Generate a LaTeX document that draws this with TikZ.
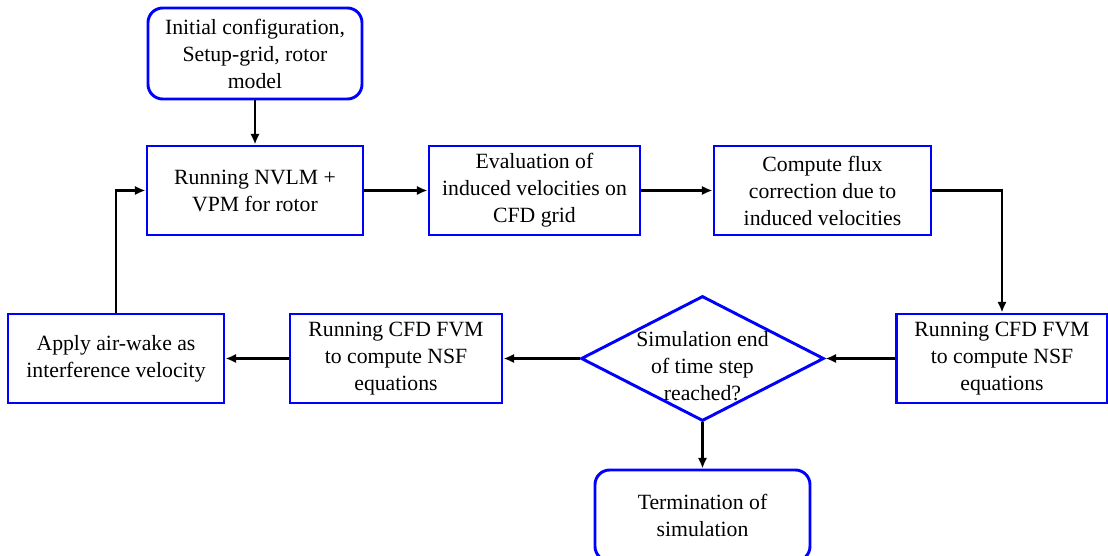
\documentclass[tikz,border=0pt]{standalone}
\usepackage{fontspec}
\setmainfont{Liberation Serif}
\usetikzlibrary{shapes.geometric,arrows.meta}
\begin{document}
\begin{tikzpicture}[x=0.75pt,y=-0.75pt,
  txt/.style={align=center,font=\fontsize{16.3}{20.25}\selectfont,inner sep=0pt},
  box/.style={txt,draw=blue,line width=2.2pt,minimum height=66.75pt},
  rbox/.style={box,rounded corners=11pt,minimum height=68.25pt},
  dia/.style={diamond,draw=blue,line width=2.2pt,inner sep=0pt,minimum width=182.25pt,minimum height=93.75pt},
  arr/.style={-{Latex[length=8pt,width=7pt]},line width=1.8pt,black}]
\useasboundingbox (0,0) rectangle (1108,556);
\node[rbox,minimum width=160.5pt] (init) at (255,53.5) {Initial configuration,\\Setup-grid, rotor\\model};
\node[box,minimum width=162pt] (nvlm) at (255,190.5) {Running NVLM +\\VPM for rotor};
\node[box,minimum width=158.25pt] (eval) at (534.5,190.5) {Evaluation of\\induced velocities on\\CFD grid};
\node[box,minimum width=162.75pt] (flux) at (822.5,190.5) {Compute flux\\correction due to\\induced velocities};
\node[box,minimum width=158.25pt] (rcfd) at (1002,358.5) {Running CFD FVM\\to compute NSF\\equations};
\node[dia] (dec) at (702.5,358.5) {};
\node[txt] (dectext) at (702.5,366) {Simulation end\\of time step\\reached?};
\node[box,minimum width=159pt] (mcfd) at (396,358.5) {Running CFD FVM\\to compute NSF\\equations};
\node[box,minimum width=162pt] (apply) at (116,358.5) {Apply air-wake as\\interference velocity};
\node[rbox,minimum width=161.25pt] (term) at (702.5,515.5) {Termination of\\simulation};
\draw[arr] (init) -- (nvlm);
\draw[arr] (nvlm) -- (eval);
\draw[arr] (eval) -- (flux);
\draw[arr] (flux.east) -| (rcfd.north);
\draw[arr] (rcfd) -- (dec);
\draw[arr] (dec) -- (mcfd);
\draw[arr] (mcfd) -- (apply);
\draw[arr] (apply.north) |- (nvlm.west);
\draw[arr] (dec.south) -- (term.north);
\end{tikzpicture}
\end{document}
